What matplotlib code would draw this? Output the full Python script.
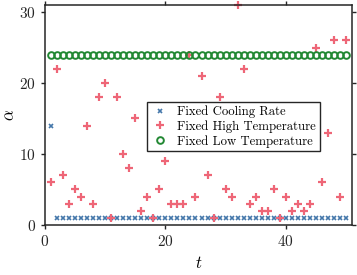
import matplotlib
matplotlib.use("Agg")
from matplotlib import pyplot as plt

t = list(range(1, 51))
cooling_rate = [14] + [1] * 49
high_temp = [6, 22, 7, 3, 5, 4, 14, 3, 18, 20,
             1, 18, 10, 8, 15, 2, 4, 1, 5, 9,
             3, 3, 3, 24, 4, 21, 7, 1, 18, 5,
             4, 31, 22, 3, 4, 2, 2, 5, 1, 4,
             2, 3, 2, 3, 25, 6, 13, 26, 4, 26]
low_temp = [24] * 50

plt.rcParams["font.family"] = "serif"
plt.rcParams["font.serif"] = ["cmr10"]
plt.rcParams["mathtext.fontset"] = "cm"
plt.rcParams["axes.formatter.use_mathtext"] = True

fig = plt.figure(figsize=(3.57, 2.75), dpi=100)
ax = fig.add_axes([0.126, 0.182, 0.86, 0.80])

ax.plot(t, cooling_rate, "x", color="#4477AA", ms=3.5, mew=1.2,
        label="Fixed Cooling Rate", clip_on=False)
ax.plot(t, high_temp, "+", color="#EE6677", ms=5.5, mew=1.6,
        label="Fixed High Temperature", clip_on=False)
ax.plot(t, low_temp, "o", color="#228833", mfc="none", ms=4.8, mew=1.4,
        label="Fixed Low Temperature", clip_on=False)

ax.set_xlim(0, 51)
ax.set_ylim(0, 31)
ax.set_xticks([0, 20, 40])
ax.set_yticks([0, 10, 20, 30])
ax.tick_params(direction="out", top=True, right=True, labelsize=11,
               length=3, width=1, colors="#262626")
for s in ax.spines.values():
    s.set_linewidth(1.1)
    s.set_color("#262626")

ax.set_xlabel("$t$", fontsize=12)
# y label placed by hand so it is not cut at the left edge
fig.text(0.026, 0.582, r"$\alpha$", fontsize=12, rotation=90,
         ha="center", va="center")

leg = ax.legend(loc="upper left", bbox_to_anchor=(0.331, 0.559), borderaxespad=0,
                fontsize=9.2, fancybox=False, edgecolor="#262626", framealpha=1,
                handletextpad=0.6, borderpad=0.3, labelspacing=0.15, handlelength=1.5)
leg.get_frame().set_linewidth(1.0)

fig.savefig("out.png", dpi=100)
